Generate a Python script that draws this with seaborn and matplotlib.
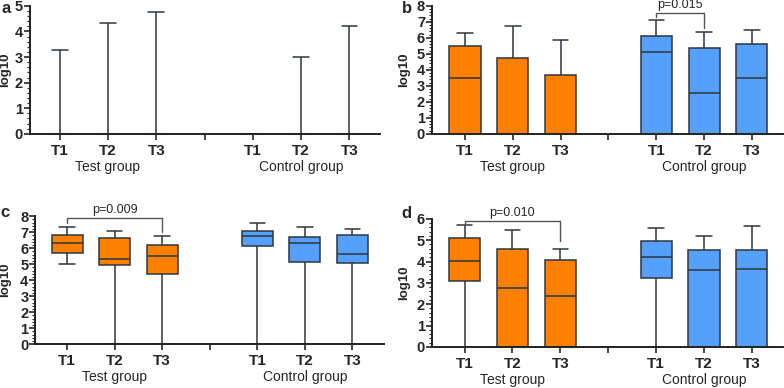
import numpy as np
import pandas as pd
import matplotlib
matplotlib.use("Agg")
import matplotlib.pyplot as plt
from matplotlib.ticker import AutoMinorLocator, MultipleLocator
import seaborn as sns

#####----- DATA (log10 values)
slots = ["T1 ", "T2 ", "T3 ", "gap", "T1", "T2", "T3"]
groups = ["Test", "Test", "Test", "Control", "Control", "Control"]
box_slots = ["T1 ", "T2 ", "T3 ", "T1", "T2", "T3"]
tick_labels = ["T1", "T2", "T3", "", "T1", "T2", "T3"]

# panel a: only upper whiskers visible
a_lo = [0, 0, 0, 0, 0, 0]
a_q1 = [0, 0, 0, 0, 0, 0]
a_med = [0, 0, 0, 0, 0, 0]
a_q3 = [0, 0, 0, 0, 0, 0]
a_hi = [3.28, 4.33, 4.77, 0, 3.02, 4.20]

# panel b
b_lo = [0, 0, 0, 0, 0, 0]
b_q1 = [0, 0, 0, 0, 0, 0]
b_med = [3.50, 0, 0, 5.10, 2.55, 3.50]
b_q3 = [5.50, 4.72, 3.70, 6.10, 5.38, 5.62]
b_hi = [6.30, 6.75, 5.85, 7.10, 6.35, 6.50]

# panel c
c_lo = [5.00, 0, 0, 0, 0, 0]
c_q1 = [5.70, 4.95, 4.40, 6.15, 5.15, 5.10]
c_med = [6.30, 5.35, 5.52, 6.75, 6.35, 5.65]
c_q3 = [6.85, 6.65, 6.18, 7.05, 6.67, 6.80]
c_hi = [7.32, 7.10, 6.75, 7.55, 7.32, 7.22]

# panel d
d_lo = [0, 0, 0, 0, 0, 0]
d_q1 = [3.08, 0, 0, 3.23, 0, 0]
d_med = [4.03, 2.77, 2.38, 4.20, 3.60, 3.65]
d_q3 = [5.12, 4.57, 4.05, 4.95, 4.55, 4.52]
d_hi = [5.70, 5.48, 4.57, 5.58, 5.20, 5.67]

# significance brackets: (left slot, right slot, top, left foot, right foot, text)
brackets = {
    "b": (4, 5, 7.55, 7.30, 6.60, "p=0.015"),
    "c": (0, 2, 7.90, 7.55, 7.00, "p=0.009"),
    "d": (0, 2, 5.92, 5.75, 4.95, "p=0.010"),
}

ymax = {"a": 5, "b": 8, "c": 8, "d": 6}
positions = {
    "a": [0.038, 0.655, 0.447, 0.330],
    "b": [0.551, 0.655, 0.449, 0.330],
    "c": [0.045, 0.113, 0.445, 0.330],
    "d": [0.551, 0.106, 0.449, 0.330],
}
xlims = {"a": (-0.62, 6.64), "b": (-0.69, 6.67), "c": (-0.67, 6.67), "d": (-0.68, 6.67)}
ylabel_x = {"a": -0.053, "b": -0.062, "c": -0.068, "d": -0.062}
# panel letters in figure fractions
letters = {"a": (0.008, 0.978), "b": (0.519, 0.978), "c": (0.007, 0.453), "d": (0.519, 0.451)}

orange = "#FF7F00"
blue = "#55A0FB"
edge = "#2E3640"


def summary_frame(lo, q1, med, q3, hi):
    # five summary values per box; with whis=(0, 100) seaborn reproduces them exactly
    rows = []
    for i, s in enumerate(box_slots):
        for v in (lo[i], q1[i], med[i], q3[i], hi[i]):
            rows.append({"slot": s, "group": groups[i], "value": v})
    return pd.DataFrame(rows)


panels = {
    "a": summary_frame(a_lo, a_q1, a_med, a_q3, a_hi),
    "b": summary_frame(b_lo, b_q1, b_med, b_q3, b_hi),
    "c": summary_frame(c_lo, c_q1, c_med, c_q3, c_hi),
    "d": summary_frame(d_lo, d_q1, d_med, d_q3, d_hi),
}

sns.set_style("ticks")
plt.rcParams["font.family"] = ["Liberation Sans", "DejaVu Sans"]

fig = plt.figure(figsize=(7.84, 3.88), dpi=100)

for key, df in panels.items():
    ax = fig.add_axes(positions[key])
    sns.boxplot(data=df, x="slot", y="value", hue="group", order=slots,
                hue_order=["Test", "Control"], palette={"Test": orange, "Control": blue},
                dodge=False, width=0.65, whis=(0, 100), saturation=1,
                linecolor=edge, linewidth=1.1, legend=False, ax=ax)

    ax.set_ylim(0, ymax[key])
    ax.set_xlim(*xlims[key])
    ax.yaxis.set_major_locator(MultipleLocator(1))
    ax.yaxis.set_minor_locator(AutoMinorLocator(5))
    ax.set_xticks(range(len(slots)))
    ax.set_xticklabels(tick_labels, fontsize=11, fontweight="bold")
    for lab in ax.get_yticklabels():
        lab.set_fontsize(10.5)
        lab.set_fontweight("bold")
    ax.tick_params(axis="y", which="major", length=4, width=1.2, pad=1)
    ax.tick_params(axis="y", which="minor", length=2, width=0.8)
    ax.tick_params(axis="x", length=4, width=1.2, pad=3)
    ax.set_xlabel("")
    ax.set_ylabel("log10", fontsize=9.5, fontweight="bold")
    ax.yaxis.set_label_coords(ylabel_x[key], 0.5)
    sns.despine(ax=ax)
    for sp in ("left", "bottom"):
        ax.spines[sp].set_linewidth(1.4)
        ax.spines[sp].set_color("#222222")

    # group captions under the tick labels
    trans = ax.get_xaxis_transform()
    ax.text(1, -0.26, "Test group", transform=trans, ha="center", va="center", fontsize=10)
    ax.text(5, -0.26, "Control group", transform=trans, ha="center", va="center", fontsize=10)

    # panel letter
    fig.text(*letters[key], key, ha="center", va="center", fontsize=12, fontweight="bold")

    if key in brackets:
        x0, x1, top, f0, f1, label = brackets[key]
        ax.plot([x0, x0, x1, x1], [f0, top, top, f1], color="#555555", lw=1.0, clip_on=False)
        ax.text((x0 + x1) / 2, top + 0.015 * ymax[key], label, ha="center", va="bottom",
                fontsize=9, clip_on=False)

fig.savefig("out.png", dpi=100)
